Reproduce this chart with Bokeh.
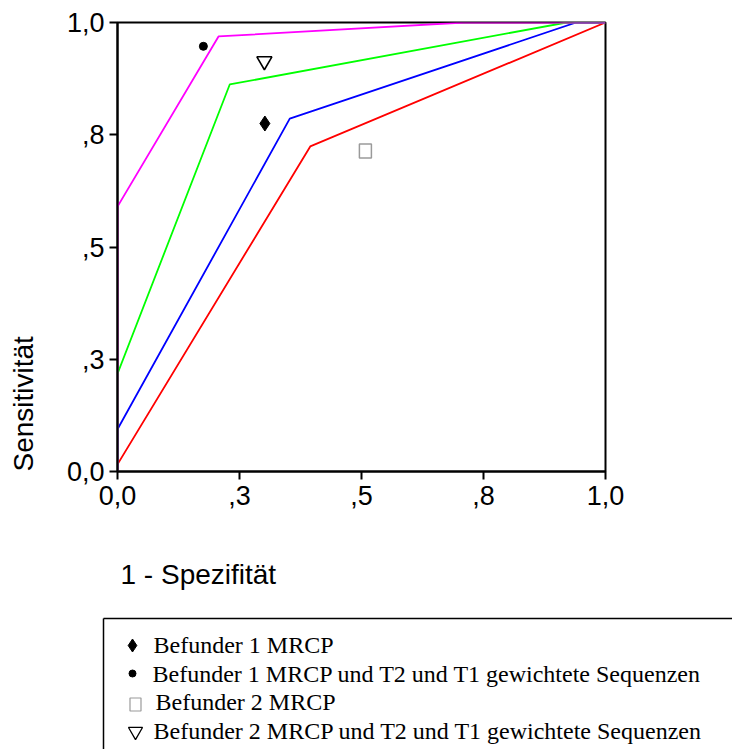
from bokeh.plotting import figure
from bokeh.models import Range1d, FixedTicker, Title
from bokeh.embed import file_html
from bokeh.resources import INLINE
from bokeh.core.properties import value

# ---------------- data ----------------
tick_values = [0.0, 0.25, 0.5, 0.75, 1.0]
tick_labels = ["0,0", ",3", ",5", ",8", "1,0"]

magenta_fpr = [0.0, 0.0, 0.207, 0.71, 1.0]
magenta_tpr = [0.0, 0.59, 0.969, 1.0, 1.0]
green_fpr = [0.0, 0.0, 0.230, 0.92, 1.0]
green_tpr = [0.0, 0.218, 0.862, 1.0, 1.0]
blue_fpr = [0.0, 0.0, 0.353, 0.94, 1.0]
blue_tpr = [0.0, 0.094, 0.786, 1.0, 1.0]
red_fpr = [0.0, 0.0, 0.395, 1.0]
red_tpr = [0.0, 0.016, 0.724, 1.0]

# single reader points (1 - specificity, sensitivity)
b1_mrcp_x, b1_mrcp_y = [0.302], [0.775]     # diamond
b1_all_x, b1_all_y = [0.176], [0.947]       # circle
b2_mrcp_x, b2_mrcp_y = [0.508], [0.714]     # square
b2_all_x, b2_all_y = [0.301], [0.914]       # nabla

legend_texts = [
    "Befunder 1 MRCP",
    "Befunder 1 MRCP und T2 und T1 gewichtete Sequenzen",
    "Befunder 2 MRCP",
    "Befunder 2 MRCP und T2 und T1 gewichtete Sequenzen",
]

x_title = "1 - Spezifität"
y_title = "Sensitivität"

# ---------------- chart ----------------
p = figure(width=732, height=600, x_range=Range1d(0, 1), y_range=Range1d(0, 1),
           output_backend="svg", toolbar_location=None,
           min_border_left=117, min_border_right=127, min_border_top=22,
           min_border_bottom=129)
p.xgrid.visible = False
p.ygrid.visible = False
p.outline_line_color = "black"
p.outline_line_width = 2
p.outline_line_alpha = 1.0
p.background_fill_color = "white"
p.border_fill_color = "white"

for ax in (p.xaxis[0], p.yaxis[0]):
    ax.ticker = FixedTicker(ticks=tick_values)
    ax.major_label_overrides = {v: l for v, l in zip(tick_values, tick_labels)}
    ax.axis_line_width = 2
    ax.axis_line_color = "black"
    ax.major_tick_line_width = 2
    ax.major_tick_line_color = "black"
    ax.major_tick_out = 8
    ax.major_tick_in = 0
    ax.minor_tick_line_color = None
    ax.major_label_text_font = "Liberation Sans"
    ax.major_label_text_font_size = "27px"
    ax.major_label_text_color = "black"
    # blank axis label used only as spacing before the titles
    ax.axis_label = " "
    ax.axis_label_text_font_size = "10px"
p.xaxis.major_label_standoff = 6
p.yaxis.major_label_standoff = 5
p.xaxis.axis_label_standoff = 34
p.yaxis.axis_label_standoff = 10

p.add_layout(Title(text=x_title, align="left", offset=3, standoff=2,
                   text_font="Liberation Sans", text_font_size="28px",
                   text_font_style="normal", text_color="black"), "below")
p.add_layout(Title(text=y_title, align="left", offset=0, standoff=2,
                   text_font="Liberation Sans", text_font_size="28px",
                   text_font_style="normal", text_color="black"), "left")

lw = 1.8
p.line(red_fpr, red_tpr, line_color="#ff0000", line_width=lw)
p.line(blue_fpr, blue_tpr, line_color="#0000ff", line_width=lw)
p.line(green_fpr, green_tpr, line_color="#00ff00", line_width=lw)
p.line(magenta_fpr, magenta_tpr, line_color="#ff00ff", line_width=lw)

p.scatter(b1_mrcp_x, b1_mrcp_y, marker="diamond", size=15,
          fill_color="black", line_color="black")
p.scatter(b1_all_x, b1_all_y, marker="circle", size=8,
          fill_color="black", line_color="black")
p.rect(b2_mrcp_x, b2_mrcp_y, width=12, height=14, width_units="screen",
       height_units="screen", fill_color=None, line_color="#9a9a9a", line_width=1.5)
p.scatter(b2_all_x, b2_all_y, marker="inverted_triangle", size=15,
          fill_color=None, line_color="black", line_width=1.6)

# ---------------- legend box (separate root, pixel coordinates) ----------------
H2 = 149
q = figure(width=732, height=H2, x_range=Range1d(0, 732), y_range=Range1d(H2, 0),
           output_backend="svg", toolbar_location=None, min_border=0,
           x_axis_location=None, y_axis_location=None)
q.xgrid.visible = False
q.ygrid.visible = False
q.outline_line_color = None
q.background_fill_color = "white"
q.border_fill_color = "white"

q.multi_line([[103, 103], [103, 740]], [[H2 + 10, 18], [18, 18]],
             line_color="black", line_width=1.5)

sym_x = [132, 132, 135, 135]
sym_y = [45, 73, 104, 131]
q.scatter([sym_x[0]], [sym_y[0]], marker="diamond", size=13,
          fill_color="black", line_color="black")
q.scatter([sym_x[1]], [sym_y[1]], marker="circle", size=7,
          fill_color="black", line_color="black")
q.rect([sym_x[2]], [sym_y[2]], width=11, height=13, width_units="screen",
       height_units="screen", fill_color=None, line_color="#9a9a9a", line_width=1.2)
q.scatter([sym_x[3]], [sym_y[3]], marker="inverted_triangle", size=14,
          fill_color=None, line_color="black", line_width=1.3)

text_x = [153, 152, 155, 153]
text_mid_y = [44, 73, 101, 130]
q.text(text_x, text_mid_y, text=legend_texts, text_font=value("Liberation Serif"),
       text_font_size="24px", text_baseline="middle", text_align="left",
       text_color="black")

open("out.html", "w").write(file_html([p, q], INLINE))
